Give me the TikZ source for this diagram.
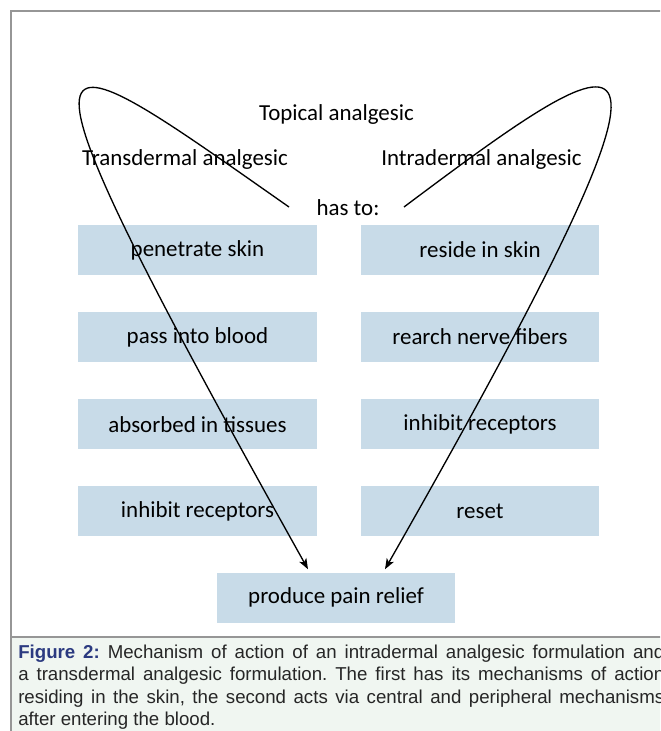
\documentclass[tikz,border=0pt]{standalone}
\usepackage{fontspec}
\setmainfont{Carlito}
\newfontfamily\capfont{Liberation Sans}
\usepackage{xcolor}
\usetikzlibrary{arrows.meta,positioning,calc}

\definecolor{boxblue}{RGB}{200,219,232}
\definecolor{framegray}{RGB}{150,150,150}
\definecolor{capbg}{RGB}{240,246,241}
\definecolor{capblue}{RGB}{43,58,128}

\begin{document}
\frenchspacing
\begin{tikzpicture}[x=0.75pt,y=-0.75pt,
  stepbox/.style={fill=boxblue, minimum width=178.9pt, minimum height=37.5pt, inner sep=0pt, font=\fontsize{17.2}{20}\selectfont},
  plain/.style={inner sep=0pt, font=\fontsize{17.2}{20}\selectfont},
  route/.style={line width=1pt, -{Stealth[length=8pt,width=6pt,inset=2pt]}}
]
\useasboundingbox (0,0) rectangle (660,731);

% Frame and caption panel
\begin{scope}
\clip (0,0) rectangle (660,731);
\fill[capbg] (11,637) rectangle (690,740);
\draw[framegray, line width=1.1pt] (11,740) -- (11,11) -- (690,11);
\draw[framegray, line width=1.1pt] (11,637) -- (690,637);
\node[anchor=north west, text width=484.5pt, align=justify, inner sep=0pt,
      font=\capfont\fontsize{14}{16.6}\selectfont, text=black!85] (caption) at (18,645)
  {\textbf{\textcolor{capblue}{Figure 2:}} Mechanism of action of an intradermal analgesic formulation and\linebreak
   a transdermal analgesic formulation. The first has its mechanisms of action\linebreak
   residing in the skin, the second acts via central and peripheral mechanisms\linebreak
   after entering the blood.};
\end{scope}

% Headings
\node[plain] (topical) at (336.5,115) {Topical analgesic};
\node[plain] (trans) at (185,160) {Transdermal analgesic};
\node[plain] (intra) at (481.5,160) {Intradermal analgesic};
\node[plain] (hasto) at (348,208) {has to:};

% Transdermal steps
\node[stepbox] (pen) at (197.5,250) {penetrate skin};
\node[stepbox, below=27.4pt of pen] (blood) {pass into blood};
\node[stepbox, below=27.4pt of blood] (tissue) {absorbed in tissues};
\node[stepbox, below=27.4pt of tissue] (inhibl) {inhibit receptors};

% Intradermal steps
\node[stepbox] (reside) at (480,250) {reside in skin};
\node[stepbox, below=27.4pt of reside] (nerve) {rearch nerve fibers};
\node[stepbox, below=27.4pt of nerve] (inhibr) {inhibit receptors};
\node[stepbox, below=27.4pt of inhibr] (reset) {reset};

% Outcome
\node[stepbox] (relief) at (336,597.5) {produce pain relief};

% Looping routes
\coordinate (tdfrom) at (289,207);
\coordinate (idfrom) at (404,207);
\draw[route] (tdfrom) .. controls (36.6,30.3) and (-22.6,-22.3) .. ($(relief.north)+(-28,-3)$);
\draw[route] (idfrom) .. controls (643.3,27.5) and (720.4,-19.5) .. ($(relief.north)+(49,-3)$);

\end{tikzpicture}
\end{document}
